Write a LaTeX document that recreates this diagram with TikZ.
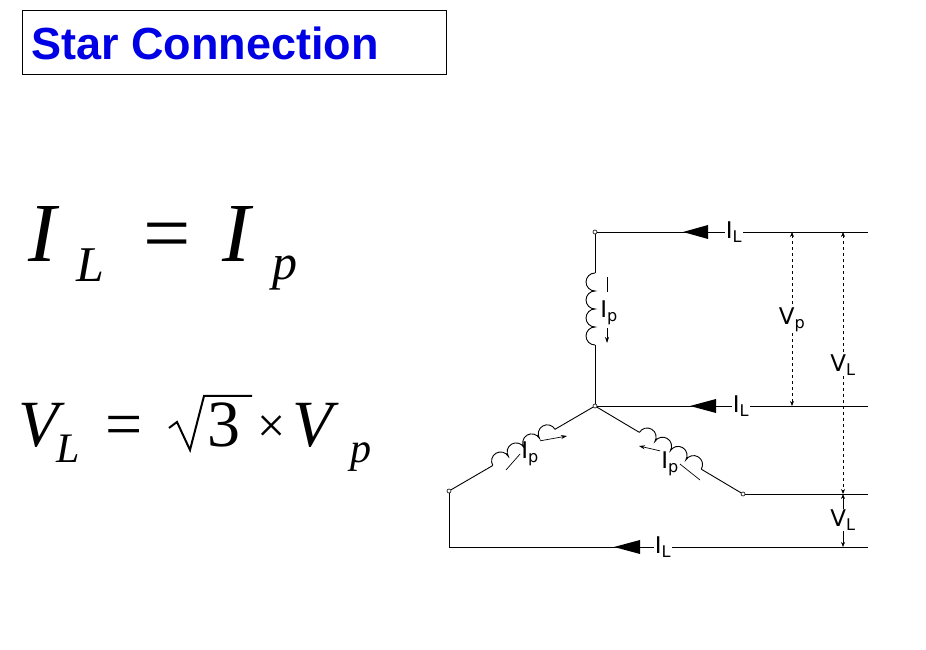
\documentclass[tikz,border=0pt]{standalone}
\usetikzlibrary{calc,arrows.meta}
\usepackage{fontspec}
\setmainfont{Liberation Serif}
\newfontfamily\lblfont{DejaVu Sans}
\newfontfamily\titlefont{Liberation Sans}
\begin{document}
\begin{tikzpicture}[x=1pt,y=1pt,
  wire/.style={line width=0.9pt},
  term/.style={circle,draw,fill=white,inner sep=0pt,minimum size=4pt,line width=0.6pt},
  lbl/.style={font=\lblfont\fontsize{23}{23}\selectfont,inner sep=1pt},
  eqbig/.style={anchor=base west,inner sep=0pt,font=\itshape\fontsize{84}{84}\selectfont},
  eqsub/.style={anchor=base west,inner sep=0pt,font=\itshape\fontsize{50}{50}\selectfont},
  eqmid/.style={anchor=base west,inner sep=0pt,font=\itshape\fontsize{66}{66}\selectfont},
  eqmsub/.style={anchor=base west,inner sep=0pt,font=\itshape\fontsize{42}{42}\selectfont},
  ipa/.style={line width=0.7pt,-{Stealth[length=6pt,width=4pt]}}]
\useasboundingbox (0,0) rectangle (926,650);
% title
\draw[line width=0.8pt] (22,576) rectangle (446,640);
\node[anchor=west,inner sep=0pt,font=\titlefont\bfseries\fontsize{45}{45}\selectfont,text=blue!90!black] (title) at (31,607) {Star Connection};
% equation 1
\node[eqbig] (i1) at (28,388) {I};
\node[eqsub] (i1s) at (76,368) {L};
\node[eqbig,font=\fontsize{84}{84}\selectfont] (eqa) at (143,388) {=};
\node[eqbig] (i2) at (222,388) {I};
\node[eqsub] (i2s) at (272,370) {p};
% equation 2
\node[eqmid] (v1n) at (18,203) {V};
\node[eqmsub] (v1s) at (56,187) {L};
\node[eqmid,font=\fontsize{66}{66}\selectfont] (eqb) at (105,203) {=};
\draw[line width=2pt,line join=miter] (169,222) -- (177,228) -- (190,200) -- (204,254) -- (252,254);
\node[eqmid,font=\fontsize{66}{66}\selectfont] (three) at (207,203) {3};
\node[eqmid,font=\fontsize{50}{50}\selectfont] (times) at (257,207) {×};
\node[eqmid] (v2n) at (292,203) {V};
\node[eqmsub] (v2s) at (350,187) {p};
% nodes
\node[term] (top) at (595,418) {};
\node[term] (ctr) at (595,244) {};
\node[term] (lft) at (449,159) {};
\node[term] (rgt) at (743,156) {};
\coordinate (e1) at (868,418);
\coordinate (e2) at (868,244);
\coordinate (e3) at (868,156);
\coordinate (e4) at (868,103);
\coordinate (bl) at (449,103);
% top coil
\coordinate (tc1) at (595,377);
\coordinate (tc2) at (595,305);
\draw[wire] (top) -- (tc1);
\draw[wire,rotate=-90] (tc1) arc[start angle=180,end angle=360,radius=9] arc[start angle=180,end angle=360,radius=9] arc[start angle=180,end angle=360,radius=9] arc[start angle=180,end angle=360,radius=9];
\draw[wire] (tc2) -- (ctr);
% left coil
\coordinate (lc1) at ($(lft)!0.3!(ctr)$);
\coordinate (lc2) at ($(lc1)!72pt!(ctr)$);
\draw[wire] (lft) -- (lc1);
\draw[wire,rotate=30.2] (lc1) arc[start angle=180,end angle=0,radius=9] arc[start angle=180,end angle=0,radius=9] arc[start angle=180,end angle=0,radius=9] arc[start angle=180,end angle=0,radius=9];
\draw[wire] (lc2) -- (ctr);
% right coil
\coordinate (rc1) at ($(ctr)!0.3!(rgt)$);
\coordinate (rc2) at ($(rc1)!72pt!(rgt)$);
\draw[wire] (ctr) -- (rc1);
\draw[wire,rotate=-30.7] (rc1) arc[start angle=180,end angle=0,radius=9] arc[start angle=180,end angle=0,radius=9] arc[start angle=180,end angle=0,radius=9] arc[start angle=180,end angle=0,radius=9];
\draw[wire] (rc2) -- (rgt);
% lines with I_L
\node[lbl] (l1) at (734,418) {I\textsubscript{L}};
\node[lbl] (l2) at (741,244) {I\textsubscript{L}};
\node[lbl] (l4) at (663,103) {I\textsubscript{L}};
\draw[wire] (top) -- (l1.west);
\draw[wire] (l1.east) -- (e1);
\draw[wire] (ctr) -- (l2.west);
\draw[wire] (l2.east) -- (e2);
\draw[wire] (rgt) -- (e3);
\draw[wire] (lft) -- (bl) -- (l4.west);
\draw[wire] (l4.east) -- (e4);
\fill (683,418) -- (708,425) -- (708,411) -- cycle;
\fill (690,244) -- (716,251) -- (716,237) -- cycle;
\fill (614,103) -- (640,110) -- (640,96) -- cycle;
% Ip arrows
\node[lbl] (ip1) at (609,337) {I\textsubscript{p}};
\draw[line width=0.7pt] (607,373) -- (607,358);
\draw[ipa] (607,322) -- (607,307);
\node[lbl] (ip2) at (530,196) {I\textsubscript{p}};
\coordinate (ip2a) at (506,180);
\coordinate (ip2b) at (567,214);
\draw[line width=0.7pt] (ip2a) -- (ip2.west);
\draw[ipa] (ip2.north east) -- (ip2b);
\node[lbl] (ip3) at (670,186) {I\textsubscript{p}};
\coordinate (ip3a) at (700,170);
\coordinate (ip3b) at (639,204);
\draw[line width=0.7pt] (ip3a) -- (ip3.east);
\draw[ipa] (ip3.north west) -- (ip3b);
% voltage dims
\coordinate (v1) at (792,418);
\coordinate (v2) at (792,244);
\node[lbl] (vp) at (792,330) {V\textsubscript{p}};
\draw[dashed,line width=0.7pt,{Stealth[length=5pt,width=4pt]}-] (v1) -- (vp.north);
\draw[dashed,line width=0.7pt,-{Stealth[length=5pt,width=4pt]}] (vp.south) -- (v2);
\coordinate (w1) at (843,418);
\coordinate (w2) at (843,156);
\coordinate (w3) at (843,103);
\node[lbl] (vl1) at (843,285) {V\textsubscript{L}};
\draw[dashed,line width=0.7pt,{Stealth[length=5pt,width=4pt]}-] (w1) -- (vl1.north);
\draw[dashed,line width=0.7pt,-{Stealth[length=5pt,width=4pt]}] (vl1.south) -- (w2);
\node[lbl] (vl2) at (843,130) {V\textsubscript{L}};
\draw[line width=0.7pt,{Stealth[length=5pt,width=4pt]}-] (w2) -- (vl2.north);
\draw[line width=0.7pt,-{Stealth[length=5pt,width=4pt]}] (vl2.south) -- (w3);
\end{tikzpicture}
\end{document}
